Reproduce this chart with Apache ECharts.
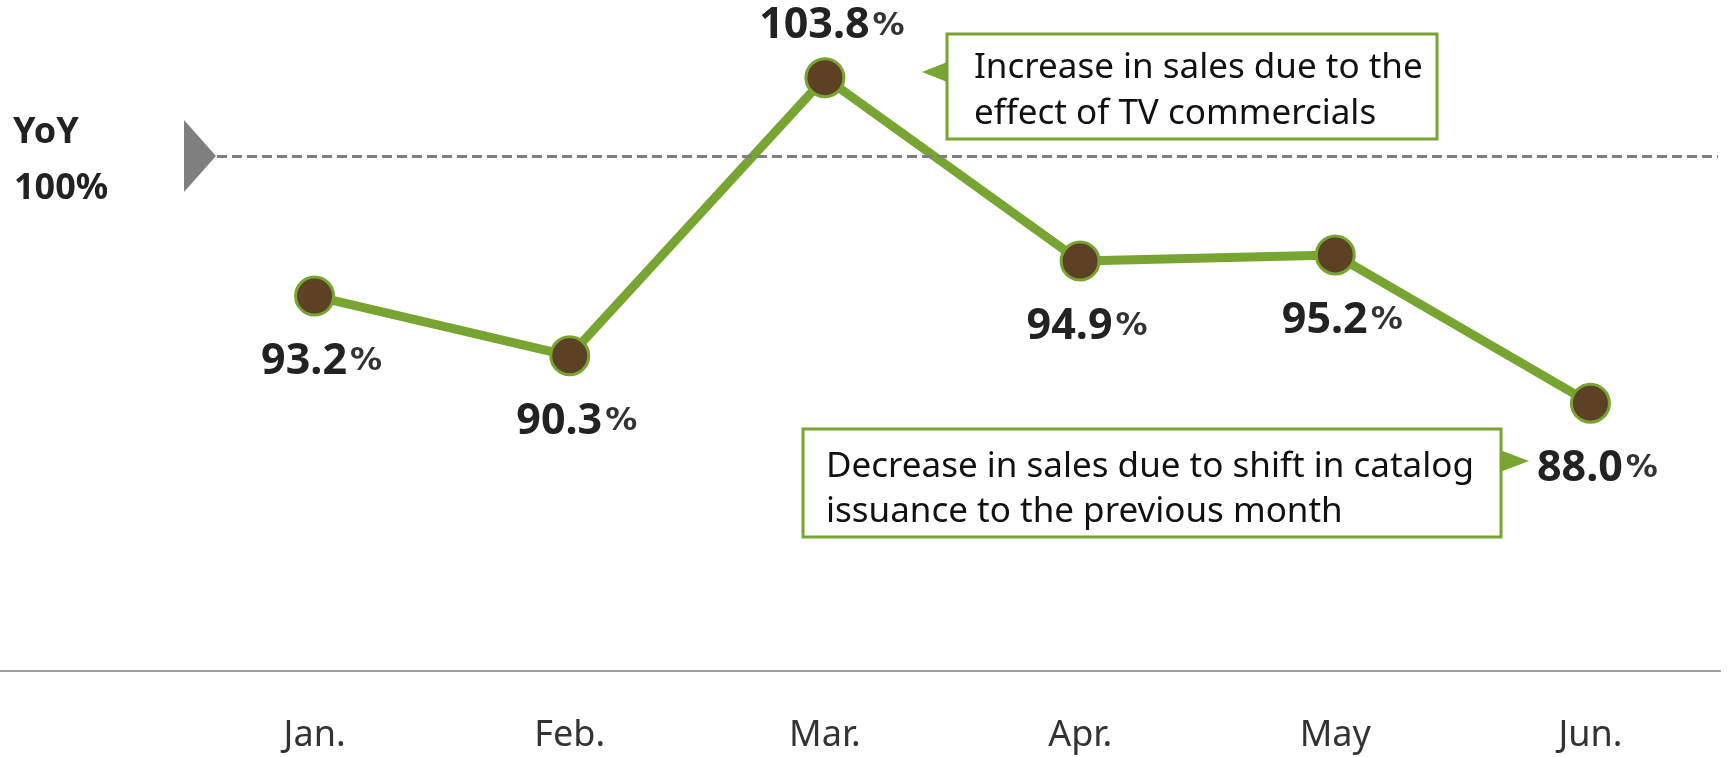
<!DOCTYPE html>
<html>
<head>
<meta charset="utf-8">
<script src="https://cdn.jsdelivr.net/npm/echarts@6/dist/echarts.min.js"></script>
<style>
html, body { margin: 0; padding: 0; background: #ffffff; }
#chart { width: 1733px; height: 757px; }
</style>
</head>
<body>
<div id="chart"></div>
<script>
// months on the x axis
const months = ['Jan.', 'Feb.', 'Mar.', 'Apr.', 'May', 'Jun.'];
// year-on-year sales, %
const yoyValues = [93.2, 90.3, 103.8, 94.9, 95.2, 88.0];
// reference line
const baseValue = 100;
const baseLabel = ['YoY', '100%'];
// notes
const noteUp = ['Increase in sales due to the', 'effect of TV commercials'];
const noteDown = ['Decrease in sales due to shift in catalog', 'issuance to the previous month'];

const green = '#78a431';
const brown = '#5c4125';
const grey = '#7f7f7f';
const maxVal = Math.max(...yoyValues);

const chart = echarts.init(document.getElementById('chart'));

chart.setOption({
  animation: false,
  grid: {
    left: 187,
    right: 15,
    top: 53,
    bottom: 86,
    containLabel: false,
    outerBoundsMode: 'none'
  },
  xAxis: {
    type: 'category',
    data: months,
    boundaryGap: true,
    axisLine: { show: false },
    axisTick: { show: false },
    splitLine: { show: false },
    axisLabel: {
      margin: 47,
      fontFamily: 'Noto Sans',
      fontSize: 36,
      color: '#333333'
    }
  },
  yAxis: {
    type: 'value',
    min: 75,
    max: 105,
    show: false,
    splitLine: { show: false }
  },
  series: [{
    name: 'YoY',
    type: 'line',
    // 最高点标签在上方，其余在下方
    data: yoyValues.map(v => ({
      value: v,
      label: v === maxVal ? { position: 'top', distance: 8 } : { position: 'bottom', distance: 22 }
    })),
    symbol: 'circle',
    symbolSize: 38,
    z: 3,
    lineStyle: { color: green, width: 9 },
    itemStyle: { color: brown, borderColor: green, borderWidth: 3 },
    label: {
      show: true,
      offset: [7, 0],
      formatter: p => '{v|' + p.value.toFixed(1) + '}{p|%}',
      rich: {
        v: { fontFamily: 'Noto Sans', fontWeight: 'bold', fontSize: 43, color: '#222222', lineHeight: 46 },
        p: { fontFamily: 'DejaVu Sans', fontWeight: 'bold', fontSize: 32, color: '#333333', lineHeight: 46, padding: [0, 0, 0, 3] }
      }
    },
    markLine: {
      silent: true,
      symbol: 'none',
      label: { show: false },
      lineStyle: { color: grey, width: 3, type: [10, 5] },
      data: [{ yAxis: baseValue }]
    }
  }]
});

// 基准线位置
const y100 = chart.convertToPixel({ yAxisIndex: 0 }, baseValue);
const axisY = 757 - 86;

chart.setOption({
  graphic: [
    {
      type: 'line',
      shape: { x1: 0, y1: axisY, x2: 1721, y2: axisY },
      style: { stroke: '#a0a0a0', lineWidth: 2 }
    },
    {
      type: 'polygon',
      shape: { points: [[184, y100 - 36], [216, y100], [184, y100 + 36]] },
      style: { fill: grey }
    },
    {
      type: 'text',
      x: 13, y: y100 - 23,
      style: {
        text: baseLabel[0],
        font: 'bold 36px "Noto Sans"',
        fill: '#222222',
        verticalAlign: 'middle'
      }
    },
    {
      type: 'text',
      x: 14, y: y100 + 33,
      style: {
        text: baseLabel[1],
        font: 'bold 36px "Noto Sans"',
        fill: '#222222',
        verticalAlign: 'middle'
      }
    },
    // note 1
    {
      type: 'polygon',
      shape: { points: [[922, 72], [950, 61], [950, 83]] },
      style: { fill: green }
    },
    {
      type: 'rect',
      shape: { x: 947, y: 34, width: 490, height: 105 },
      style: { fill: '#ffffff', stroke: green, lineWidth: 3 }
    },
    {
      type: 'text',
      x: 974, y: 45,
      style: {
        text: noteUp.join('\n'),
        font: '35px "Noto Sans"',
        lineHeight: 46,
        fill: '#111111',
        verticalAlign: 'top'
      }
    },
    // note 2
    {
      type: 'polygon',
      shape: { points: [[1529, 461], [1500, 450], [1500, 472]] },
      style: { fill: green }
    },
    {
      type: 'rect',
      shape: { x: 803, y: 429, width: 698, height: 108 },
      style: { fill: '#ffffff', stroke: green, lineWidth: 3 }
    },
    {
      type: 'text',
      x: 826, y: 445,
      style: {
        text: noteDown.join('\n'),
        font: '35px "Noto Sans"',
        lineHeight: 45,
        fill: '#111111',
        verticalAlign: 'top'
      }
    }
  ]
});
</script>
</body>
</html>
